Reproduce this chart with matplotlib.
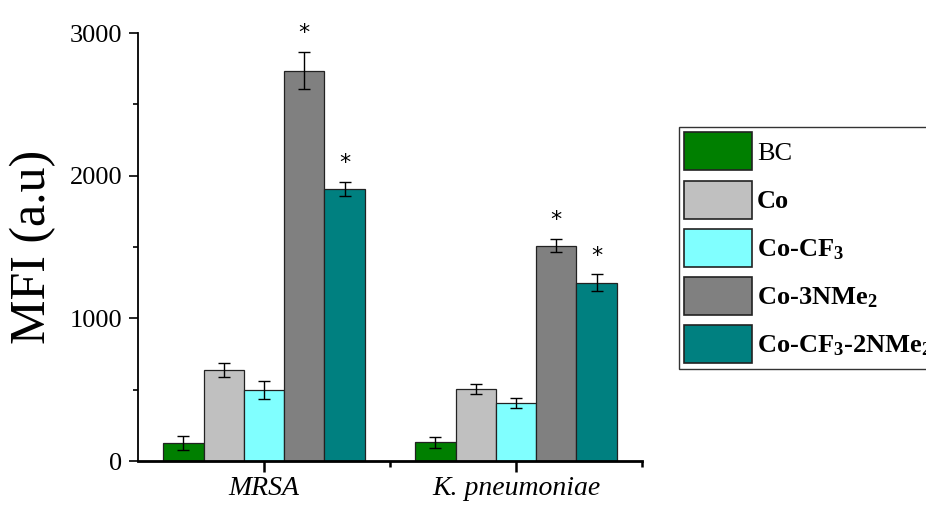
import numpy as np
import matplotlib
matplotlib.use("Agg")
import matplotlib.pyplot as plt
from matplotlib.patches import Patch
from matplotlib.ticker import FixedLocator

plt.rcParams["font.family"] = ["Liberation Serif", "DejaVu Serif"]
plt.rcParams["mathtext.fontset"] = "custom"
plt.rcParams["mathtext.rm"] = "Liberation Serif"
plt.rcParams["mathtext.bf"] = "Liberation Serif:bold"
plt.rcParams["mathtext.it"] = "Liberation Serif:italic"

groups = ["MRSA", "K. pneumoniae"]
series = ["BC", "Co", "Co-CF$_{\\mathbf{3}}$", "Co-3NMe$_{\\mathbf{2}}$",
          "Co-CF$_{\\mathbf{3}}$-2NMe$_{\\mathbf{2}}$"]
colors = ["#007F00", "#C0C0C0", "#80FFFF", "#808080", "#008080"]

values = [
    [126, 130],    # BC
    [638, 507],    # Co
    [500, 404],    # Co-CF3
    [2737, 1509],  # Co-3NMe2
    [1906, 1250],  # Co-CF3-2NMe2
]
errors = [
    [50, 37],
    [52, 36],
    [63, 35],
    [133, 47],
    [51, 58],
]
significant = [
    [False, False],
    [False, False],
    [False, False],
    [True, True],
    [True, True],
]

fig = plt.figure(figsize=(9.26, 5.07), dpi=100)
ax = fig.add_axes([138 / 926, 46 / 507, 504 / 926, 428 / 507])

x = np.arange(1, len(groups) + 1)
width = 0.16
for i, (vals, errs, sig) in enumerate(zip(values, errors, significant)):
    pos = x + (i - 2) * width
    ax.bar(pos, vals, width, color=colors[i], edgecolor="#222222", linewidth=0.9,
           zorder=2)
    ax.errorbar(pos, vals, yerr=errs, fmt="none", ecolor="black", elinewidth=1,
                capsize=4, capthick=1, zorder=3)
    for p, v, e, s in zip(pos, vals, errs, sig):
        if s:
            ax.text(p, v + e + 130, "*", ha="center", va="center", fontsize=16,
                    family="DejaVu Sans")

ax.set_xlim(0.5, 2.5)
ax.set_ylim(0, 3000)
ax.set_yticks([0, 1000, 2000, 3000])
ax.yaxis.set_minor_locator(FixedLocator([500, 1500, 2500]))
ax.set_xticks(x)
ax.set_xticklabels(groups, fontsize=20, style="italic")
ax.xaxis.set_minor_locator(FixedLocator([1.5, 2.5]))

for s in ["top", "right"]:
    ax.spines[s].set_visible(False)
ax.spines["left"].set_linewidth(1.3)
ax.spines["bottom"].set_linewidth(2)

ax.tick_params(axis="y", which="major", direction="out", length=6.5, width=1.2,
               labelsize=19, pad=5)
ax.tick_params(axis="y", which="minor", direction="out", length=3.5, width=1.2)
ax.tick_params(axis="x", which="major", direction="out", length=8, width=1.8,
               pad=3)
ax.tick_params(axis="x", which="minor", direction="out", length=4, width=1.8)

ax.set_ylabel("MFI (a.u)", fontsize=36, va="center")
ax.yaxis.set_label_coords(-(138 - 33) / 504, 0.5)

handles = [Patch(facecolor=c, edgecolor="#222222", linewidth=1.2) for c in colors]
leg = fig.legend(handles, series, loc="upper left",
                 bbox_to_anchor=(679 / 926, 1 - 127 / 507), fontsize=19,
                 frameon=True, fancybox=False, edgecolor="black",
                 handlelength=2.55, handleheight=1.85, handletextpad=0.2,
                 labelspacing=0.38, borderpad=0.2, borderaxespad=0)
leg.get_frame().set_linewidth(1.0)
for i, t in enumerate(leg.get_texts()):
    if i > 0:
        t.set_fontweight("bold")

fig.savefig("out.png", dpi=100)
